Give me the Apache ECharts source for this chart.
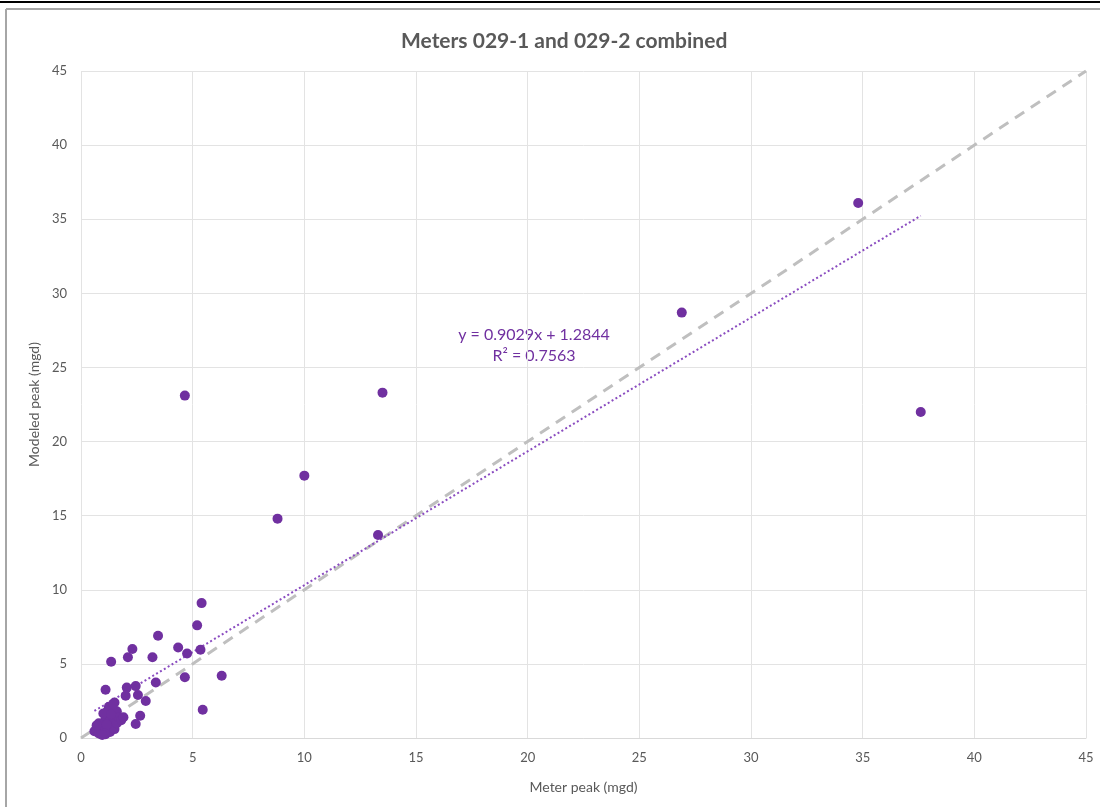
<!DOCTYPE html>
<html>
<head>
<meta charset="utf-8">
<script src="https://cdn.jsdelivr.net/npm/echarts@6/dist/echarts.min.js"></script>
<style>
	html, body { margin: 0; padding: 0; background: #fff; }
	#scatter { width: 1100px; height: 807px; }
</style>
</head>
<body>
<div id="scatter"></div>
<script>
// meter peak (x) vs modeled peak (y), mgd
const meterPeak = [
	34.8, 26.9, 37.6, 4.65, 13.5, 10.0, 8.8, 13.3,
	5.4, 5.2, 3.45, 2.3, 4.35, 4.75, 5.35, 2.1, 3.2, 1.35, 6.3, 4.65, 3.35,
	1.1, 2.05, 2.45, 2.0, 2.55, 2.9, 5.45, 2.65, 2.45, 1.5,
	0.6, 0.7, 0.8, 0.9, 1.0, 1.0, 1.1, 1.1, 1.2, 1.2, 1.3, 1.3, 1.4, 1.4, 1.5,
	1.5, 1.6, 1.6, 1.7, 1.8, 0.8, 0.9, 1.0, 1.25, 1.45, 1.15, 0.7, 1.35, 1.9, 1.05, 0.95
];
const modeledPeak = [
	36.1, 28.7, 22.0, 23.1, 23.3, 17.7, 14.8, 13.7,
	9.1, 7.6, 6.9, 6.0, 6.1, 5.7, 5.95, 5.45, 5.45, 5.15, 4.2, 4.1, 3.75,
	3.25, 3.4, 3.5, 2.85, 2.9, 2.5, 1.9, 1.5, 0.95, 2.4,
	0.45, 0.6, 0.3, 0.8, 0.5, 1.0, 0.25, 1.3, 0.7, 1.85, 0.4, 1.1, 0.9, 1.5, 0.6,
	1.2, 1.8, 1.0, 1.4, 1.2, 1.0, 0.5, 1.65, 2.1, 2.3, 0.9, 0.85, 1.6, 1.4, 0.3, 0.2
];
const axisTicks = [0, 5, 10, 15, 20, 25, 30, 35, 40, 45];
const trendSlope = 0.9029;
const trendIntercept = 1.2844;
const trendR2 = 0.7563;
const identityLine = [[0, 0], [45, 45]];

let chart = echarts.init(document.getElementById('scatter'));

let points = meterPeak.map((x, i) => [x, modeledPeak[i]]);
let xMin = Math.min(...meterPeak);
let xMax = Math.max(...meterPeak);
let trend = [
	[xMin, trendSlope * xMin + trendIntercept],
	[xMax, trendSlope * xMax + trendIntercept]
];

const font = 'Lato, "Open Sans", sans-serif';
const grey = '#595959';

chart.setOption({
	animation: false,
	backgroundColor: '#fff',
	textStyle: { fontFamily: font },
	title: {
		text: 'Meters 029-1 and 029-2 combined',
		left: 396,
		top: 26,
		textStyle: { color: grey, fontSize: 21, fontWeight: 'bold', fontFamily: font }
	},
	grid: { left: 81, right: 14, top: 71, bottom: 69 },
	xAxis: {
		type: 'value',
		min: axisTicks[0],
		max: axisTicks[axisTicks.length - 1],
		interval: 5,
		name: 'Meter peak (mgd)',
		nameLocation: 'middle',
		nameGap: 42,
		nameTextStyle: { color: grey, fontSize: 14 },
		axisLine: { show: true, lineStyle: { color: '#d9d9d9' } },
		axisTick: { show: false },
		axisLabel: { color: grey, fontSize: 13, margin: 13 },
		splitLine: { show: true, lineStyle: { color: '#e3e3e3', width: 1 } }
	},
	yAxis: {
		type: 'value',
		min: axisTicks[0],
		max: axisTicks[axisTicks.length - 1],
		interval: 5,
		name: 'Modeled peak (mgd)',
		nameLocation: 'middle',
		nameGap: 36,
		nameTextStyle: { color: grey, fontSize: 14 },
		axisLine: { show: false },
		axisTick: { show: false },
		axisLabel: { color: grey, fontSize: 13, margin: 14 },
		splitLine: { show: true, lineStyle: { color: '#e3e3e3', width: 1 } }
	},
	series: [
		{
			name: 'identity',
			type: 'line',
			data: identityLine,
			symbol: 'none',
			silent: true,
			lineStyle: { color: '#bfbfbf', width: 3, type: [11, 8] },
			z: 1
		},
		{
			name: 'trend',
			type: 'line',
			data: trend,
			symbol: 'none',
			silent: true,
			lineStyle: { color: '#8a4cc0', width: 2, type: [2, 2.5] },
			z: 2
		},
		{
			name: 'peaks',
			type: 'scatter',
			data: points,
			symbolSize: 10,
			itemStyle: { color: '#7030a0', opacity: 1 },
			z: 3
		}
	],
	graphic: [
		{
			type: 'line',
			shape: { x1: 0, y1: 2, x2: 1100, y2: 2 },
			style: { stroke: '#000', lineWidth: 2 }
		},
		{
			type: 'line',
			shape: { x1: 6, y1: 9, x2: 1100, y2: 9 },
			style: { stroke: '#a6a6a6', lineWidth: 2 }
		},
		{
			type: 'line',
			shape: { x1: 6, y1: 9, x2: 6, y2: 807 },
			style: { stroke: '#a6a6a6', lineWidth: 2 }
		},
		{
			type: 'text',
			x: 534,
			y: 324,
			style: {
				text: 'y = 0.9029x + 1.2844\nR² = ' + trendR2,
				fill: '#7030a0',
				font: '16px ' + font,
				align: 'center',
				verticalAlign: 'top',
				lineHeight: 21
			}
		}
	]
});
</script>
</body>
</html>
